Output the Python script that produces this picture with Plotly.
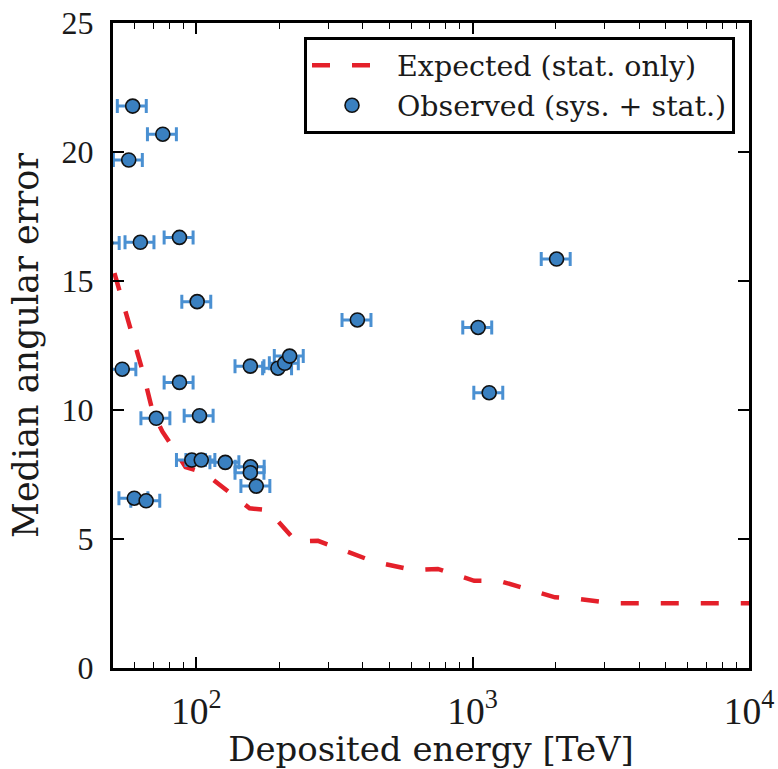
import math
import plotly.graph_objects as go

# Observed events: deposited energy [TeV] and median angular error [deg]
obs_energy = [58.9, 75.7, 57.0, 47.0, 62.8, 87.0, 100.8, 54.0, 87.0, 157.0,
              197.6, 209.0, 217.8, 71.7, 102.8, 96.4, 104.3, 127.4, 157.3,
              157.0, 164.9, 59.7, 65.9, 382.9, 1047.0, 1148.0, 2013.0]
obs_error = [21.78, 20.69, 19.69, 16.47, 16.5, 16.69, 14.2, 11.58, 11.07, 11.7,
             11.62, 11.81, 12.09, 9.68, 9.78, 8.06, 8.06, 7.97, 7.80,
             7.57, 7.05, 6.58, 6.48, 13.49, 13.2, 10.67, 15.85]
energy_err_pct = 12  # relative energy resolution, in percent

# Expected median angular error (statistical only)
exp_energy = [50.6, 53.5, 64.1, 69.6, 75.5, 85.5, 91.5, 107.2, 156.0, 181.7,
              230.3, 275.9, 440.0, 609.2, 748.6, 1013.5, 1256.0, 1987.0,
              2448.0, 3232.0, 10000.0]
exp_error = [15.31, 14.39, 11.48, 9.93, 9.16, 8.29, 7.79, 7.56, 6.19, 6.12,
             4.90, 4.93, 4.12, 3.80, 3.84, 3.38, 3.37, 2.74,
             2.67, 2.51, 2.51]

x_range = [math.log10(50), 4]
y_range = [0, 25]

FONT = "DejaVu Serif"
TICK_FONT = "Liberation Serif"
INK = "#1a1a1a"

fig = go.Figure()

fig.add_trace(go.Scatter(
    x=exp_energy, y=exp_error, mode="lines",
    name="Expected (stat. only)",
    line=dict(color="#e4202a", width=4.5, dash="18px,22px"),
))

fig.add_trace(go.Scatter(
    x=obs_energy, y=obs_error, mode="markers",
    name="Observed (sys. + stat.)",
    marker=dict(size=14, color="#3a80c0", line=dict(color="#111111", width=1.6)),
    error_x=dict(type="percent", value=energy_err_pct, color="#4a90d2",
                 thickness=3, width=7),
))

axis_common = dict(
    showline=True, linecolor="black", linewidth=3, mirror="ticks",
    ticks="inside", tickcolor="black", tickwidth=1.5, ticklen=11,
    showgrid=False, zeroline=False, automargin=False,
)

fig.update_xaxes(
    type="log", range=x_range, dtick=1, exponentformat="power",
    tickfont=dict(family=TICK_FONT, size=30, color=INK),
    title=dict(text="Deposited energy [TeV]", font=dict(family=FONT, size=34, color=INK), standoff=10),
    minor=dict(ticks="inside", ticklen=6, tickwidth=1.2, tickcolor="black",
               showgrid=False, dtick="D1"),
    ticklabelstandoff=9,
    **axis_common,
)
fig.update_yaxes(
    range=y_range, dtick=5,
    tickfont=dict(family=TICK_FONT, size=32, color=INK),
    title=dict(text="Median angular error", font=dict(family=FONT, size=35, color=INK), standoff=13),
    ticklabelstandoff=10,
    **axis_common,
)

fig.update_layout(
    width=778, height=769, autosize=False,
    margin=dict(l=113, r=29, t=23, b=101),
    plot_bgcolor="white", paper_bgcolor="white",
    font=dict(family=FONT, color=INK),
    legend=dict(
        x=0.978, y=0.978, xanchor="right", yanchor="top",
        bgcolor="white", bordercolor="black", borderwidth=3,
        font=dict(family=FONT, size=28.5, color=INK),
        itemwidth=80,
    ),
    showlegend=True,
)

fig.write_html("out.html")
